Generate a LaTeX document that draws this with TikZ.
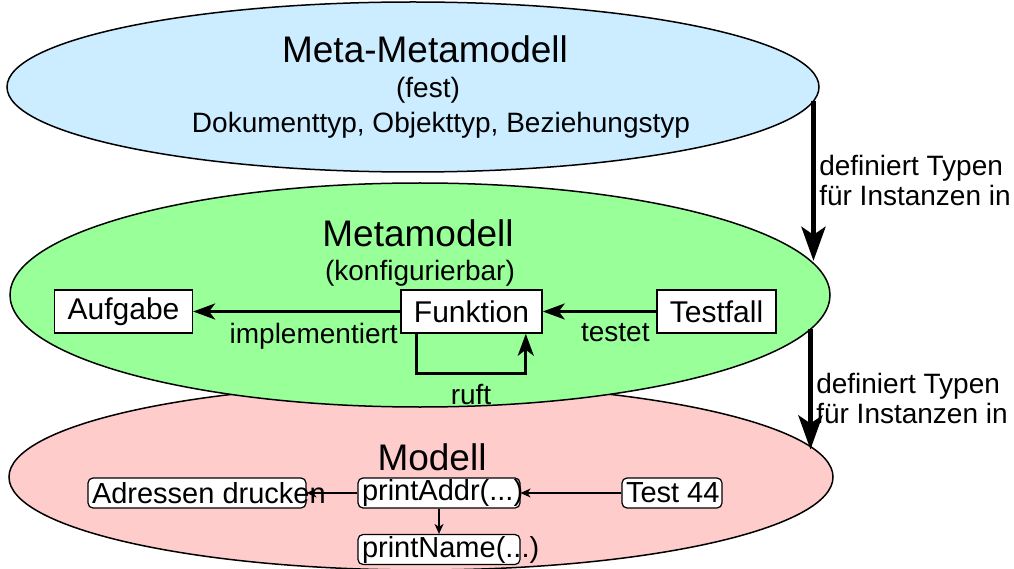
\documentclass[tikz,border=0pt]{standalone}
\usepackage{fontspec}
\setmainfont{Liberation Sans}
\usepackage{tikz}
\usetikzlibrary{shapes.geometric, arrows.meta, positioning}
\definecolor{metametacolor}{RGB}{204,236,255}
\definecolor{metacolor}{RGB}{153,255,153}
\definecolor{modelcolor}{RGB}{255,204,204}

\begin{document}
\begin{tikzpicture}[
    x=1pt, y=-1pt,
    font=\fontsize{28}{30}\selectfont,
    levelellipse/.style={draw, ellipse, line width=1.5pt, inner sep=0pt, outer sep=0pt},
    headline/.style={anchor=base, font=\fontsize{37}{40}\selectfont},
    typebox/.style={draw, fill=white, line width=1.5pt, minimum height=43pt, inner xsep=13pt, inner ysep=0pt, font=\fontsize{30}{32}\selectfont},
    instbox/.style={draw, fill=white, rounded corners=5pt, line width=1.2pt, minimum height=30pt, inner xsep=4pt, inner ysep=0pt, font=\fontsize{29}{30}\selectfont},
    defarrow/.style={-{Stealth[length=34pt, width=24pt, inset=8pt]}, line width=5pt},
    relarrow/.style={-{Stealth[length=22pt, width=16pt, inset=6pt]}, line width=3pt},
    instarrow/.style={-{Stealth[length=10pt, width=9pt, inset=3pt]}, line width=1.5pt}
]
    \useasboundingbox (0,0) rectangle (1014,569);

    % the three levels
    \node[levelellipse, fill=modelcolor, minimum width=824pt, minimum height=186pt] (model) at (421,477) {};
    \node[levelellipse, fill=metacolor, minimum width=820pt, minimum height=224pt] (meta) at (420,295) {};
    \node[levelellipse, fill=metametacolor, minimum width=812pt, minimum height=170pt] (metameta) at (413,87) {};

    \node[headline] (mmtitle) at (425,63) {Meta-Metamodell};
    \node[anchor=base] (mmfixed) at (428,98) {(fest)};
    \node[anchor=base] (mmtypes) at (441,133) {Dokumenttyp, Objekttyp, Beziehungstyp};

    \node[headline] (mtitle) at (418,247) {Metamodell};
    \node[anchor=base] (mconf) at (420,280) {(konfigurierbar)};

    \node[headline] (modtitle) at (432,470) {Modell};

    % metamodel types
    \node[typebox] (task) at (123.5,311.5) {Aufgabe};
    \node[typebox] (func) at (471.5,311.5) {Funktion};
    \node[typebox] (test) at (716.5,311.5) {Testfall};

    \draw[relarrow] (func) -- (task) node[pos=0, below left, yshift=-7pt, inner xsep=1pt] {implementiert};
    \draw[relarrow] (test) -- (func) node[pos=0, below left, yshift=-7pt, inner xsep=5pt] {testet};
    \draw[relarrow] ([xshift=16pt]func.south west) -- ++(0,40) -| node[pos=0.25, below, yshift=-6pt] {ruft} ([xshift=-17pt]func.south east);

    % model instances
    \node[instbox] (print) at (197,493) {\makebox[210pt][l]{Adressen drucken}};
    \node[instbox] (addr) at (439,493) {\makebox[154pt][l]{printAddr(...)}};
    \node[instbox] (t44) at (672,493) {\makebox[92pt][l]{Test 44}};
    \node[instbox] (name) at (439,549.5) {\makebox[154pt][l]{printName(...)}};

    \draw[instarrow] (addr) -- (print);
    \draw[instarrow] (t44) -- (addr);
    \draw[instarrow] (addr) -- (name);

    % level relations
    \draw[defarrow] (metameta.-2.84) -- (metameta.-2.84 |- meta.5.33)
        node[midway, right, align=left] {definiert Typen\\für Instanzen in};
    \draw[defarrow] (meta.-5.33) -- (meta.-5.33 |- model.4.71)
        node[pos=0.58, right, align=left] {definiert Typen\\für Instanzen in};
\end{tikzpicture}
\end{document}
